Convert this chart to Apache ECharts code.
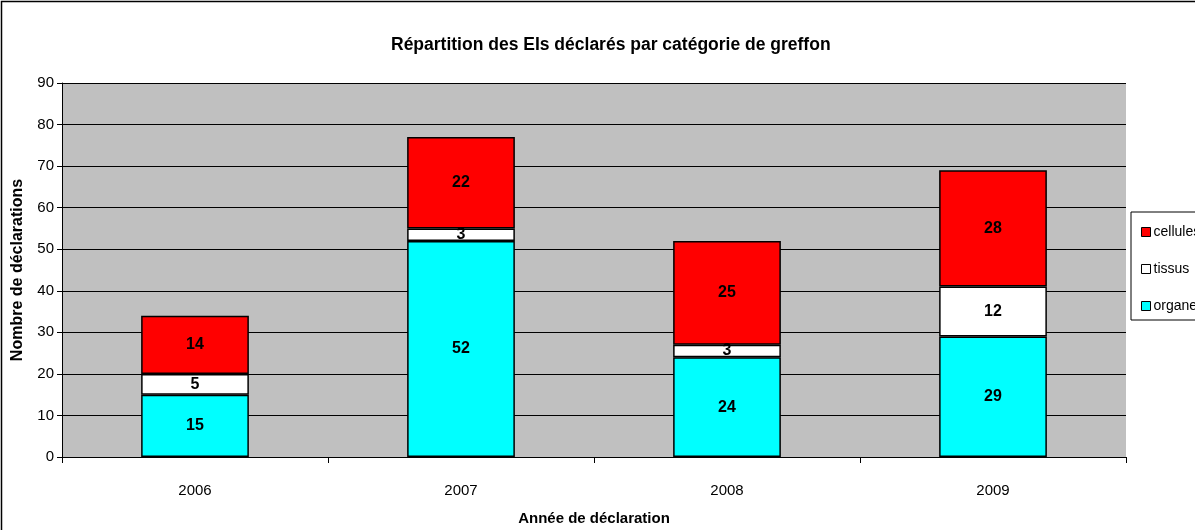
<!DOCTYPE html>
<html><head><meta charset="utf-8">
<script src="https://cdn.jsdelivr.net/npm/echarts@6/dist/echarts.min.js"></script>
<style>html,body{margin:0;padding:0;background:#fff}#c{width:1195px;height:530px}</style>
</head><body><div id="c"></div>
<script>
const categories = ['2006', '2007', '2008', '2009'];
const organes = [15, 52, 24, 29];
const tissus = [5, 3, 3, 12];
const cellules = [14, 22, 25, 28];
const yTicks = [0, 10, 20, 30, 40, 50, 60, 70, 80, 90];

const FONT = '"Liberation Sans Narrow", "Liberation Sans", Arial, sans-serif';
const chart = echarts.init(document.getElementById('c'), null, {renderer: 'canvas'});
const lbl = {show: true, position: 'inside', color: '#000', fontWeight: 'bold', fontSize: 16, fontFamily: FONT};
const mk = (name, data, color) => ({
  name, type: 'bar', stack: 'a', data, barWidth: '40.5%',
  itemStyle: {color, borderColor: '#000', borderWidth: 1.5},
  label: lbl, emphasis: {disabled: true}
});
chart.setOption({
  animation: false,
  textStyle: {fontFamily: FONT},
  title: {text: 'Répartition des EIs déclarés par catégorie de greffon', left: 386, top: 31,
    textStyle: {fontSize: 17.5, fontWeight: 'bold', color: '#000', fontFamily: FONT}},
  graphic: [{type: 'rect', shape: {x: 1.5, y: 1.5, width: 1200, height: 540}, style: {fill: null, stroke: '#000', lineWidth: 1.5}, silent: true},
            {type: 'rect', shape: {x: 1131, y: 212, width: 80, height: 108}, style: {fill: '#fff', stroke: '#000', lineWidth: 1}, silent: true, z: -1}],
  legend: {orient: 'vertical', left: 1136, top: 220, itemGap: 23, itemWidth: 9, itemHeight: 9, icon: 'rect',
    data: ['cellules', 'tissus', 'organes'],
    itemStyle: {borderColor: '#000', borderWidth: 1},
    textStyle: {fontSize: 14, color: '#000', fontFamily: FONT, padding: [0, 0, 0, -2]}},
  grid: {left: 62, right: 69, top: 83, bottom: 73, backgroundColor: '#c0c0c0', show: true, borderWidth: 0,
    outerBoundsMode: 'none', containLabel: false},
  xAxis: {type: 'category', data: categories,
    name: 'Année de déclaration', nameLocation: 'middle', nameGap: 54,
    nameTextStyle: {fontSize: 15, fontWeight: 'bold', color: '#000', fontFamily: FONT},
    axisLine: {lineStyle: {color: '#000', width: 1}},
    axisTick: {show: true, length: 6, lineStyle: {color: '#000'}},
    axisLabel: {fontSize: 15, color: '#000', margin: 26, fontFamily: FONT}},
  yAxis: {type: 'value', min: yTicks[0], max: yTicks[yTicks.length - 1], interval: 10,
    name: 'Nombre de déclarations', nameLocation: 'middle', nameGap: 36, nameRotate: 90,
    nameTextStyle: {fontSize: 16, fontWeight: 'bold', color: '#000', fontFamily: FONT},
    axisLine: {show: true, lineStyle: {color: '#000', width: 1}},
    axisTick: {show: true, length: 5, lineStyle: {color: '#000'}},
    splitLine: {lineStyle: {color: '#000', width: 1}},
    axisLabel: {fontSize: 15, color: '#000', margin: 8, fontFamily: FONT}},
  series: [mk('organes', organes, '#00ffff'), mk('tissus', tissus, '#ffffff'), mk('cellules', cellules, '#ff0000')]
});
</script></body></html>
